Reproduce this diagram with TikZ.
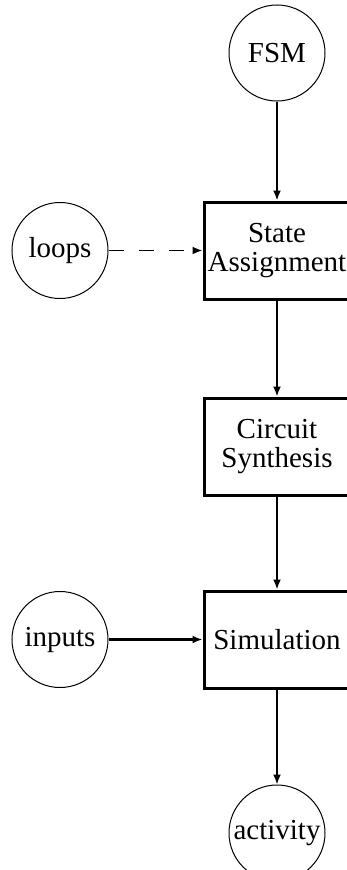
\documentclass[tikz,border=0pt]{standalone}
\usepackage{fontspec}
\setmainfont{Liberation Serif}
\usepackage{tikz}
\usetikzlibrary{arrows.meta, positioning}

\begin{document}
\begin{tikzpicture}[
    x=1pt, y=1pt,
    node distance=96pt and 94pt,
    every node/.style={font=\fontsize{29}{29}\selectfont},
    data/.style={circle, draw, line width=1pt, inner sep=0pt, minimum size=96pt},
    stage/.style={rectangle, draw, line width=3pt, align=center, minimum width=146pt, minimum height=97pt, inner sep=0pt},
    flow/.style={line width=1.8pt, -{Latex[length=10pt, width=8pt]}}
]
\useasboundingbox (0,0) rectangle (346,-870);

\node[data] (fsm) at (277,-53) {FSM};

\node[stage, below=99pt of fsm] (assign) {State\\Assignment};
\node[data, left=94pt of assign] (loops) {loops};

\node[stage, below=of assign] (synth) {Circuit\\Synthesis};

\node[stage, below=93pt of synth] (sim) {Simulation};
\node[data, left=94pt of sim] (inputs) {inputs};

\node[data, below=95pt of sim] (act) {activity};

\draw[flow] (fsm) -- (assign);
\draw[flow, dash pattern=on 15pt off 15pt] (loops) -- (assign);
\draw[flow] (assign) -- (synth);
\draw[flow] (synth) -- (sim);
\draw[flow, line width=2.6pt] (inputs) -- (sim);
\draw[flow] (sim) -- (act);

\end{tikzpicture}
\end{document}
